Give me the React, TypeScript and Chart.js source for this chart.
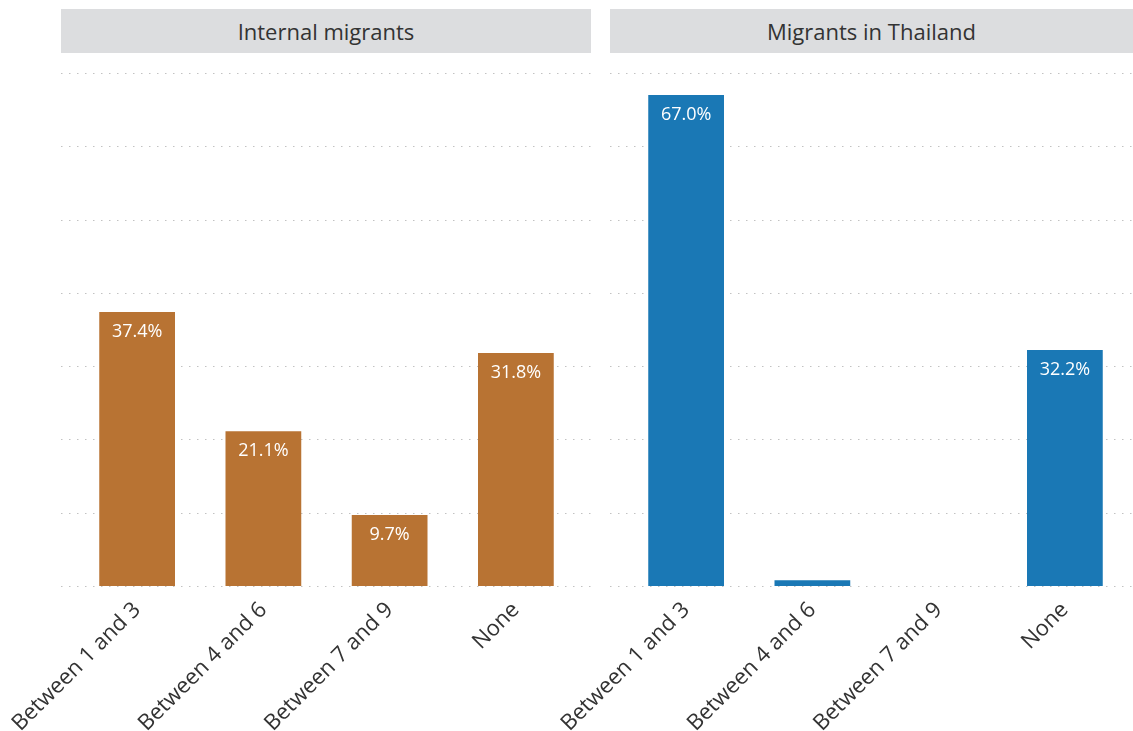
import React, { useEffect, useRef } from "react";
import { Chart, registerables } from "chart.js";
Chart.register(...registerables);

const categories = ["Between 1 and 3", "Between 4 and 6", "Between 7 and 9", "None"];
const internalValues = [37.4, 21.1, 9.7, 31.8];
const thailandValues = [67.0, 0.8, 0, 32.2];
const yTicks = [0, 10, 20, 30, 40, 50, 60, 70];
const panelTitles = ["Internal migrants", "Migrants in Thailand"];
const internalColor = "#B87333";
const thailandColor = "#1A78B5";

const FONT = "'Open Sans', Lato, sans-serif";

const dottedGrid = {
  id: "dottedGrid",
  beforeDatasetsDraw(chart: any, _args: any, opts: any) {
    const { ctx, chartArea, scales } = chart;
    const y = scales.y;
    ctx.save();
    ctx.strokeStyle = "#c2c2c2";
    ctx.lineWidth = 1;
    ctx.setLineDash([1.5, 6.5]);
    yTicks.forEach((v) => {
      const py = Math.round(y.getPixelForValue(v)) + 0.5;
      ctx.beginPath();
      ctx.moveTo(chartArea.left - (opts.extendLeft || 0), py);
      ctx.lineTo(chartArea.right + (opts.extendRight || 0), py);
      ctx.stroke();
    });
    ctx.restore();
  },
};

const barLabels = {
  id: "barLabels",
  afterDatasetsDraw(chart: any) {
    const { ctx } = chart;
    const ds = chart.data.datasets[0];
    const meta = chart.getDatasetMeta(0);
    ctx.save();
    ctx.fillStyle = "#ffffff";
    ctx.font = `18px ${FONT}`;
    ctx.textAlign = "center";
    ctx.textBaseline = "middle";
    meta.data.forEach((bar: any, i: number) => {
      const v = ds.data[i] as number;
      if (v < 5) return;
      ctx.fillText(v.toFixed(1) + "%", bar.x, bar.y + 20);
    });
    ctx.restore();
  },
};

type PanelProps = {
  title: string;
  values: number[];
  color: string;
  headerLeft: number;
  headerWidth: number;
  canvasLeft: number;
  canvasWidth: number;
  padLeft: number;
  padRight: number;
  extendLeft: number;
  extendRight: number;
};

function Panel(p: PanelProps) {
  const ref = useRef<HTMLCanvasElement | null>(null);
  useEffect(() => {
    if (!ref.current) return;
    const chart = new Chart(ref.current, {
      type: "bar",
      data: {
        labels: categories,
        datasets: [
          {
            data: p.values,
            backgroundColor: p.color,
            barPercentage: 0.6,
            categoryPercentage: 1,
          },
        ],
      },
      options: {
        responsive: false,
        animation: false,
        devicePixelRatio: 1,
        layout: { padding: { left: p.padLeft, right: p.padRight, top: 13, bottom: 0 } },
        plugins: {
          legend: { display: false },
          tooltip: { enabled: false },
          dottedGrid: { extendLeft: p.extendLeft, extendRight: p.extendRight },
        } as any,
        scales: {
          x: {
            grid: { display: false },
            border: { display: false },
            ticks: {
              minRotation: 45,
              maxRotation: 45,
              color: "#333333",
              font: { family: FONT, size: 22 },
              padding: 3,
            },
            afterFit: (s: any) => {
              s.height = 145;
            },
          },
          y: {
            display: false,
            min: 0,
            max: 70,
          },
        },
      },
      plugins: [dottedGrid, barLabels],
    });
    return () => chart.destroy();
  }, []);
  return (
    <>
      <div
        style={{
          position: "absolute",
          left: p.headerLeft,
          top: 9,
          width: p.headerWidth,
          height: 44,
          background: "#DCDDDF",
          color: "#333333",
          fontFamily: FONT,
          fontSize: 22,
          lineHeight: "44px",
          textAlign: "center",
        }}
      >
        {p.title}
      </div>
      <canvas
        ref={ref}
        width={p.canvasWidth}
        height={671}
        style={{ position: "absolute", left: p.canvasLeft, top: 60, width: p.canvasWidth, height: 671 }}
      />
    </>
  );
}

export default function App() {
  return (
    <div style={{ position: "fixed", left: 0, top: 0, width: 1133, height: 731, background: "#ffffff", overflow: "hidden" }}>
      <Panel
        title={panelTitles[0]}
        values={internalValues}
        color={internalColor}
        headerLeft={61}
        headerWidth={530}
        canvasLeft={0}
        canvasWidth={600}
        padLeft={74}
        padRight={21}
        extendLeft={13}
        extendRight={12}
      />
      <Panel
        title={panelTitles[1]}
        values={thailandValues}
        color={thailandColor}
        headerLeft={610}
        headerWidth={523}
        canvasLeft={480}
        canvasWidth={653}
        padLeft={143}
        padRight={5}
        extendLeft={13}
        extendRight={5}
      />
    </div>
  );
}
